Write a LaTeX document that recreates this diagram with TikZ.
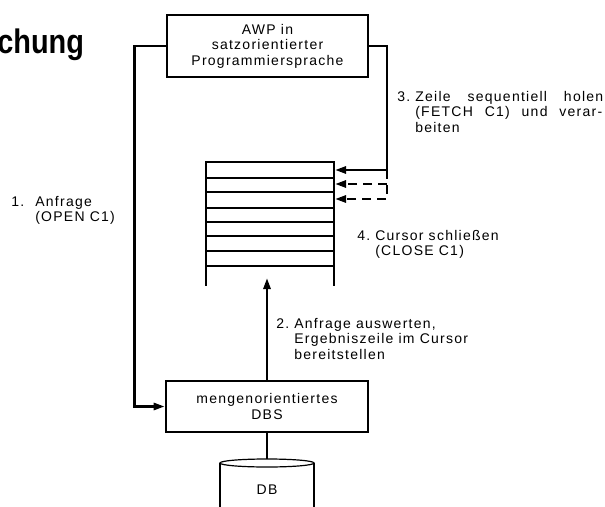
\documentclass[tikz,border=0pt]{standalone}
\usepackage{fontspec}
\setmainfont{Liberation Sans}[LetterSpace=9]
\newfontfamily\headfont{Liberation Sans}
\usetikzlibrary{arrows.meta}
\newcommand\dgfont{\fontsize{14}{15.5}\selectfont}
\begin{document}
\begin{tikzpicture}[x=1pt,y=-1pt,
  line width=2.6pt,
  box/.style={draw, line width=2.6pt, align=center, inner sep=0pt, font=\dgfont},
  lab/.style={inner sep=0pt, anchor=base west, font=\dgfont},
  arr/.style={-{Triangle[length=11pt,width=7pt]}},
  dashline/.style={dash pattern=on 9pt off 6pt},
  row/.style={line width=2pt},
]
\useasboundingbox (0,0) rectangle (605,506);

% heading fragment
\node[anchor=base west, inner sep=0pt, font=\headfont\bfseries\fontsize{34}{34}\selectfont] (head) at (-4,53) {\scalebox{0.85}[1]{chung}};

% application program and set-oriented DBS
\node[box, minimum width=201pt, minimum height=62pt] (awp) at (267.5,46)
  {AWP in\\satzorientierter\\Programmiersprache};
\node[box, minimum width=202pt, minimum height=51pt] (dbs) at (267,406.5)
  {mengenorientiertes\\DBS};

% cursor (result table)
\foreach \yy in {162,178,192,208,222,236,266}
  \draw[row] (206,\yy) -- (334,\yy);
\draw[line width=2.8pt] (206,251) -- (334,251);
\draw (206,161) -- (206,286);
\draw (334,161) -- (334,286);
\coordinate (t1) at (335,170);
\coordinate (t2) at (335,184);
\coordinate (t3) at (335,199);
\coordinate (c1) at (387,170);
\coordinate (c2) at (387,184);
\coordinate (c3) at (387,199);
\coordinate (tip) at (267,278);

% database cylinder
\coordinate (dbtop) at (267,459);
\draw[line width=1.2pt] (267,463) ellipse [x radius=47pt, y radius=4pt];
\draw[line width=1.4pt] (220,463) -- (220,510);
\draw[line width=2.8pt] (314,463) -- (314,510);
\node[inner sep=0pt, font=\dgfont] (db) at (267,490) {DB};
\draw (dbs.south) -- (dbtop);

% connectors
\draw[arr] (awp.west) -- ++(-31,0) |- (dbs.west);
\draw[arr] (awp.east) -| (c1) -- (t1);
\draw[arr, dashline] (c1) -- (c3) -- (t3);
\draw[arr, dashline] (c2) -- (t2);
\draw[arr] (dbs.north) -- (tip);

% step labels
\node[lab] (l1) at (10,206) {\begin{tabular}[t]{@{}l@{}l@{}}\makebox[24pt][l]{1.}&Anfrage\\&(OPEN C1)\end{tabular}};
\node[lab] (l2) at (275,328) {\begin{tabular}[t]{@{}l@{}l@{}}\makebox[18pt][l]{2.}&Anfrage auswerten,\\&Ergebniszeile im Cursor\\&bereitstellen\end{tabular}};
\node[lab] (l3) at (396,101) {\begin{tabular}[t]{@{}l@{}l@{}}\makebox[18pt][l]{3.}&\makebox[188pt][s]{Zeile sequentiell holen}\\&\makebox[187pt][s]{(FETCH C1) und verar-}\\&beiten\end{tabular}};
\node[lab] (l4) at (356,240) {\begin{tabular}[t]{@{}l@{}l@{}}\makebox[18pt][l]{4.}&Cursor schließen\\&(CLOSE C1)\end{tabular}};
\end{tikzpicture}
\end{document}
